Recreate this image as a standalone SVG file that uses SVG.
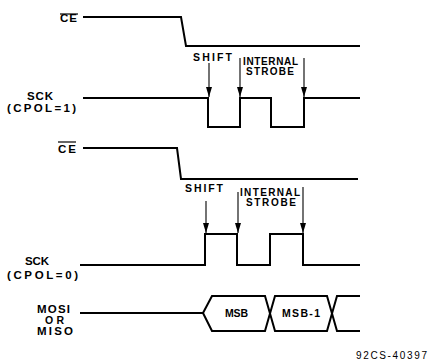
<svg xmlns="http://www.w3.org/2000/svg" width="428" height="363" viewBox="0 0 428 363">
<defs>
<marker id="ah" viewBox="0 0 10 6" refX="10" refY="3" markerWidth="10" markerHeight="6" markerUnits="userSpaceOnUse" orient="auto">
<path d="M0,0 L10,3 L0,6 Z" fill="#000"/>
</marker>
<style>
.sig{fill:none;stroke:#000;stroke-width:2;stroke-linejoin:miter}
.arr{fill:none;stroke:#000;stroke-width:1.1}
.bar{stroke:#000;stroke-width:1.2}
.lbl{font-family:"Liberation Sans",Arial,sans-serif;font-weight:bold;font-size:11.5px;fill:#000}
.sm{font-family:"Liberation Sans",Arial,sans-serif;font-weight:bold;font-size:10.5px;fill:#000}
.st{font-family:"Liberation Sans",Arial,sans-serif;font-weight:bold;font-size:10px;fill:#000}
.ref{font-family:"Liberation Sans",Arial,sans-serif;font-size:10px;fill:#000}
</style>
</defs>
<rect width="428" height="363" fill="#fff"/>
<g id="ce1">
<text class="lbl" x="60" y="22" textLength="17" lengthAdjust="spacing">CE</text>
<line class="bar" x1="60" y1="14" x2="78" y2="14"/>
<polyline class="sig" points="83,17 181,17 186,46 360,46"/>
</g>
<g id="sck1">
<text class="lbl" x="27" y="100" textLength="26" lengthAdjust="spacing">SCK</text>
<text class="lbl" x="7" y="112" textLength="69" lengthAdjust="spacing">(CPOL=1)</text>
<polyline class="sig" points="83,98 208,98 208,127 240,127 240,98 271,98 271,127 304,127 304,98 360,98"/>
</g>
<g id="labels1">
<text class="sm" x="193" y="61" textLength="39" lengthAdjust="spacing">SHIFT</text>
<text class="st" x="243" y="64.5" textLength="55" lengthAdjust="spacing">INTERNAL</text>
<text class="st" x="246" y="75" textLength="48" lengthAdjust="spacing">STROBE</text>
</g>
<g id="ce2">
<text class="lbl" x="58" y="153" textLength="18" lengthAdjust="spacing">CE</text>
<line class="bar" x1="58" y1="142" x2="76" y2="142"/>
<polyline class="sig" points="83,148 177,148 181,179 358,179"/>
</g>
<g id="labels2">
<text class="sm" x="185" y="192" textLength="38" lengthAdjust="spacing">SHIFT</text>
<text class="st" x="240" y="196" textLength="60" lengthAdjust="spacing">INTERNAL</text>
<text class="st" x="246" y="206" textLength="50" lengthAdjust="spacing">STROBE</text>
</g>
<g id="sck2">
<text class="lbl" x="25" y="265" textLength="24" lengthAdjust="spacing">SCK</text>
<text class="lbl" x="7" y="279" textLength="71" lengthAdjust="spacing">(CPOL=0)</text>
<polyline class="sig" points="80,265 205,265 205,234 237,234 237,265 270,265 270,234 303,234 303,265 360,265"/>
</g>
<g id="mosi">
<text class="lbl" x="37" y="313" textLength="33" lengthAdjust="spacing">MOSI</text>
<text class="lbl" x="45" y="324" textLength="19" lengthAdjust="spacing" style="font-size:10.5px">OR</text>
<text class="lbl" x="37" y="335" textLength="36" lengthAdjust="spacing">MISO</text>
<polyline class="sig" points="80,313 203,313"/>
<polyline class="sig" points="203,313 212,296 265,296 275,331 327,331 337,296 360,296"/>
<polyline class="sig" points="203,313 212,331 265,331 275,296 327,296 337,331 360,331"/>
<text class="sm" x="225" y="317" textLength="23" lengthAdjust="spacing">MSB</text>
<text class="sm" x="282" y="317" textLength="38" lengthAdjust="spacing">MSB-1</text>
</g>
<g id="connectors">
<line class="arr" x1="209" y1="63" x2="209" y2="97" marker-end="url(#ah)"/>
<line class="arr" x1="240" y1="58" x2="240" y2="97" marker-end="url(#ah)"/>
<line class="arr" x1="304" y1="58" x2="304" y2="97" marker-end="url(#ah)"/>
<line class="arr" x1="206" y1="201" x2="206" y2="233" marker-end="url(#ah)"/>
<line class="arr" x1="238" y1="192" x2="238" y2="233" marker-end="url(#ah)"/>
<line class="arr" x1="303" y1="187" x2="303" y2="233" marker-end="url(#ah)"/>
</g>
<text class="ref" x="356" y="359" textLength="71" lengthAdjust="spacing">92CS-40397</text>
</svg>
